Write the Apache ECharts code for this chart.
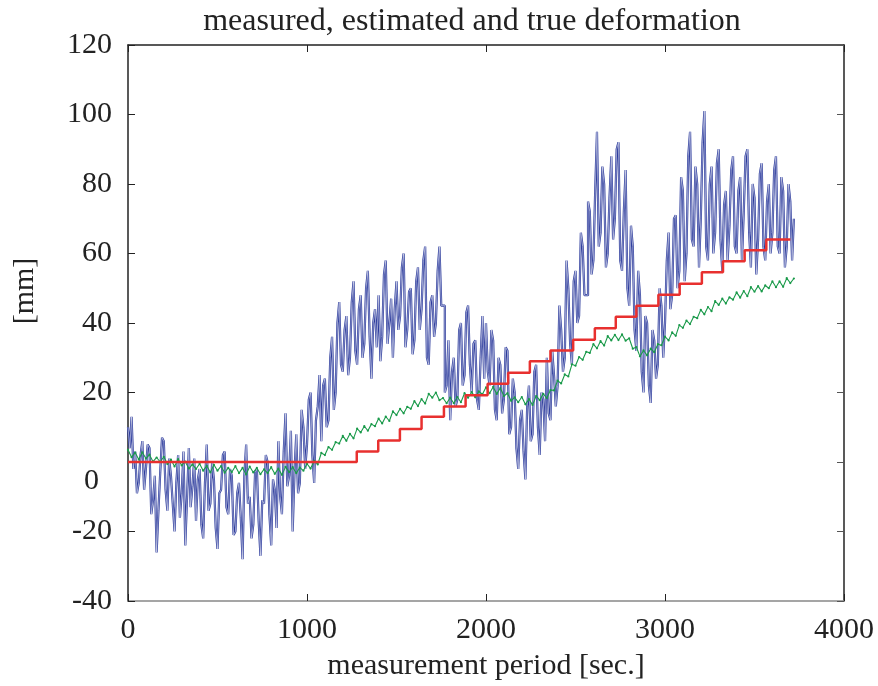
<!DOCTYPE html>
<html>
<head>
  <meta charset="UTF-8">
  <title>measured, estimated and true deformation</title>
  <script src="https://cdn.jsdelivr.net/npm/echarts@6/dist/echarts.min.js"></script>
  <style>
    html, body { margin: 0; padding: 0; background: #fff; }
    #chart { width: 878px; height: 686px; }
  </style>
</head>
<body>
<div id="chart"></div>
<script>
  // sampling steps (sec.)
  var measuredStep = 10;
  var estimatedStep = 20;

  // measured deformation [mm], one value every 10 sec. from 0
  var measured = [
    10, 4, 13, -2, 3, -9, -6, 2, 6, -8, -2, 5, 4, -15, -11, -4, -26, -14, -3, 7,
    6, -8, -14, 1, -4, -12, -20, -6, 2, -16, -9, 3, -24, -10, 4, -13, -7, 1, -17, -5,
    -2, -18, -22, -6, 5, -14, -12, 0, -5, -19, -25, -9, -8, 2, 3, -13, -15, -2, -4, -21,
    -20, -9, -6, -16, -28, -4, 5, -12, -10, -22, -18, -3, -2, -17, -27, -11, -12, 2, 0, -15,
    -24, -5, -8, -19, 6, -10, -15, 3, 14, -7, -4, 9, -20, -3, 8, -9, -6, 15, 10, -2,
    5, 18, 20, 2, -6, 12, 16, 25, 6, 22, 24, 10, 12, 30, 36, 15, 20, 40, 46, 28,
    26, 38, 42, 25, 30, 46, 52, 32, 28, 44, 48, 30, 34, 50, 55, 36, 24, 40, 44, 33,
    48, 29, 36, 54, 58, 34, 40, 47, 30, 44, 52, 38, 42, 56, 60, 33, 38, 49, 50, 31,
    35, 52, 56, 38, 44, 58, 62, 30, 28, 46, 48, 36, 40, 55, 62, 45, 45, 20, 22, 35,
    12, 26, 30, 16, 18, 38, 40, 22, 25, 43, 45, 28, 20, 34, 35, 18, 15, 30, 42, 24,
    40, 26, 22, 38, 35, 15, 12, 30, 28, 14, 18, 33, 32, 8, 10, 24, 20, 4, -2, 12,
    15, 3, -5, 16, 22, 6, 8, 26, 28, 10, 2, 20, 18, 6, 30, 14, 12, 32, 25, 16,
    22, 45, 38, 26, 30, 58, 50, 34, 28, 52, 55, 40, 42, 66, 62, 48, 48, 75, 72, 54,
    58, 78, 95, 62, 66, 85, 80, 56, 60, 76, 88, 64, 70, 90, 92, 58, 55, 72, 84, 50,
    45, 68, 62, 38, 32, 55, 48, 26, 20, 42, 40, 22, 17, 38, 35, 24, 28, 50, 45, 30,
    40, 58, 66, 44, 48, 70, 71, 50, 55, 82, 78, 52, 60, 88, 95, 64, 62, 85, 80, 56,
    70, 92, 101, 62, 58, 80, 85, 60, 66, 86, 90, 64, 55, 74, 78, 58, 68, 84, 88, 62,
    60, 78, 82, 58, 72, 88, 90, 66, 56, 80, 76, 54, 64, 83, 86, 62, 58, 75, 80, 60,
    66, 84, 88, 62, 60, 82, 78, 56, 62, 80, 75, 58, 70
  ];

  // estimated deformation [mm], one value every 20 sec. from 0
  var estimated = [
    3.5, 1.4, 2.7, 0.7, 2.8, 1.0, 2.1, 0.1, 1.3, 0.0,
    1.5, -0.6, 0.7, -1.3, 0.8, -1.0, 0.1, -1.9, -0.7, -2.0,
    -0.5, -2.5, -1.1, -3.0, -0.8, -2.5, -1.2, -3.1, -1.7, -2.9,
    -1.2, -3.2, -1.7, -3.6, -1.3, -3.0, -1.7, -3.5, -2.1, -3.2,
    -1.5, -3.4, -1.9, -3.7, -1.4, -2.9, -1.5, -3.2, -1.6, -2.5,
    -0.5, -1.9, 0.3, -0.7, 2.6, 2.0, 4.3, 3.5, 5.7, 5.3,
    7.5, 6.1, 8.1, 6.8, 9.6, 8.5, 10.3, 9.0, 10.9, 10.3,
    12.5, 11.1, 13.1, 11.8, 14.6, 13.5, 15.3, 14.0, 15.9, 15.3,
    17.5, 16.1, 18.1, 16.8, 19.6, 18.5, 20.0, 17.8, 18.4, 16.9,
    18.5, 16.9, 18.7, 17.2, 19.8, 18.5, 20.1, 18.6, 20.3, 19.5,
    21.5, 19.8, 21.6, 19.6, 21.3, 19.0, 19.8, 17.6, 18.6, 17.2,
    18.7, 16.6, 18.1, 16.4, 19.0, 17.8, 19.6, 18.4, 20.7, 20.6,
    23.4, 22.6, 25.2, 24.6, 28.1, 27.7, 30.2, 29.4, 31.7, 31.4,
    33.9, 32.7, 34.8, 33.5, 36.2, 35.0, 36.6, 35.1, 36.7, 34.9,
    35.6, 32.6, 33.1, 30.4, 32.1, 30.7, 32.6, 31.6, 33.9, 33.6,
    36.1, 35.0, 37.3, 36.3, 39.4, 38.6, 40.7, 39.7, 41.8, 41.4,
    43.8, 42.5, 44.6, 43.4, 46.3, 45.2, 47.0, 45.6, 47.4, 46.7,
    48.8, 47.3, 49.2, 47.7, 50.3, 49.0, 50.6, 49.1, 50.8, 50.0,
    52.0, 50.3, 52.0, 50.4, 52.9, 51.5, 52.8
  ];

  // true deformation: step times [sec.] and levels [mm]
  var trueTimes = [0, 1278, 1398, 1519, 1640, 1765, 1886, 2009, 2124, 2245, 2360,
    2487, 2608, 2725, 2840, 2963, 3082, 3206, 3324, 3445, 3566, 3700];
  var trueLevels = [0, 3.0, 6.2, 9.5, 13.0, 16.0, 19.2, 22.5, 25.7, 29.0, 32.1,
    35.2, 38.5, 41.8, 45.0, 48.1, 51.3, 54.6, 57.8, 60.9, 64.0, 64.0];

  var font = 'Liberation Serif';

  function pairs(vals, step) {
    return vals.map(function (v, i) { return [i * step, v]; });
  }

  var myChart = echarts.init(document.getElementById('chart'), null, {renderer: 'canvas'});

  var option = {
    animation: false,
    backgroundColor: '#fff',
    title: {
      text: 'measured, estimated and true deformation',
      left: 467,
      textAlign: 'center',
      top: 1,
      textStyle: {fontFamily: font, fontSize: 32, fontWeight: 'normal', color: '#222'}
    },
    // the "0" tick label sits lower and further left than the others in the original
    graphic: [{
      type: 'text',
      left: 84,
      top: 466,
      style: {text: '0', fontFamily: font, fontSize: 30, fill: '#222'}
    }],
    grid: {left: 128, right: 34, top: 45, bottom: 76},
    xAxis: [{
      type: 'value',
      min: 0, max: 4000, interval: 1000,
      name: 'measurement period [sec.]',
      nameLocation: 'middle',
      nameGap: 50,
      nameTextStyle: {fontFamily: font, fontSize: 30, color: '#222'},
      axisLine: {onZero: false, lineStyle: {color: '#888', width: 1.5}},
      axisTick: {inside: true, length: 7, lineStyle: {color: '#222'}},
      axisLabel: {fontFamily: font, fontSize: 30, color: '#222', margin: 14,
        formatter: function (v) { return String(v); }},
      splitLine: {show: false}
    }, {
      type: 'value', position: 'top',
      min: 0, max: 4000, interval: 1000,
      axisLine: {onZero: false, lineStyle: {color: '#222', width: 1.5}},
      axisTick: {inside: true, length: 7, lineStyle: {color: '#222'}},
      axisLabel: {show: false},
      splitLine: {show: false}
    }],
    yAxis: [{
      type: 'value',
      min: -40, max: 120, interval: 20,
      name: '[mm]',
      nameLocation: 'middle',
      nameGap: 88,
      nameTextStyle: {fontFamily: font, fontSize: 30, color: '#222', padding: [0, 0, 0, 64]},
      axisLine: {onZero: false, lineStyle: {color: '#222', width: 1.5}},
      axisTick: {inside: true, length: 7, lineStyle: {color: '#222'}},
      axisLabel: {
        fontFamily: font, fontSize: 30, color: '#222', margin: 16,
        formatter: function (v) { return v === 0 ? '' : String(v); }
      },
      splitLine: {show: false}
    }, {
      type: 'value', position: 'right',
      min: -40, max: 120, interval: 20,
      axisLine: {show: true, onZero: false, lineStyle: {color: '#222', width: 1.5}},
      axisTick: {show: true, inside: true, length: 7, lineStyle: {color: '#555'}},
      axisLabel: {show: false},
      splitLine: {show: false}
    }],
    series: [
      {
        name: 'measured',
        type: 'line',
        step: 'end',
        data: pairs(measured, measuredStep),
        showSymbol: false,
        lineStyle: {color: '#2b3a9c', width: 2.2},
        z: 2
      },
      {
        name: 'measured-core',
        type: 'line',
        step: 'end',
        data: pairs(measured, measuredStep),
        showSymbol: false,
        silent: true,
        lineStyle: {color: '#ffffff', width: 0.7, opacity: 0.75},
        z: 2
      },
      {
        name: 'estimated',
        type: 'line',
        data: pairs(estimated, estimatedStep),
        symbol: 'circle',
        symbolSize: 2.2,
        showSymbol: true,
        showAllSymbol: true,
        itemStyle: {color: '#1a9a4a'},
        lineStyle: {color: '#1a9a4a', width: 1.1},
        z: 3
      },
      {
        name: 'true',
        type: 'line',
        step: 'end',
        data: trueTimes.map(function (t, i) { return [t, trueLevels[i]]; }),
        showSymbol: false,
        lineStyle: {color: '#e8302f', width: 2.5},
        z: 4
      }
    ]
  };

  myChart.setOption(option);
</script>
</body>
</html>
